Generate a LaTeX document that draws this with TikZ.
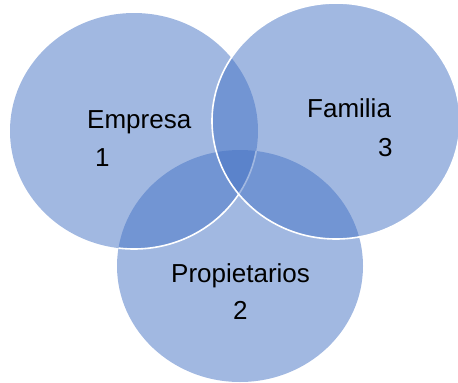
\documentclass[tikz,border=0pt]{standalone}
\usepackage{fontspec}
\setmainfont{Liberation Sans}
\definecolor{vennblue}{HTML}{4472C4}
\begin{document}
\begin{tikzpicture}[x=1pt,y=-1pt,
    disc/.style={fill=vennblue,fill opacity=0.5},
    rim/.style={draw=white,line width=1.6pt},
    lbl/.style={font=\fontsize{26}{31}\selectfont,inner sep=0pt,anchor=base west}]
    \useasboundingbox (0,0) rectangle (458,383);

    % Propietarios, Empresa, Familia
    \fill[disc] (240,266) ellipse [x radius=123, y radius=116];
    \fill[disc] (134,131) ellipse [x radius=124, y radius=118];
    \begin{scope}
        \clip (240,266) ellipse [x radius=123, y radius=116];
        \draw[rim] (134,131) ellipse [x radius=124, y radius=118];
    \end{scope}
    \fill[disc] (336,121) ellipse [x radius=124, y radius=118];
    \draw[rim] (336,121) ellipse [x radius=124, y radius=118];

    \node[lbl] (empresa) at (87,128) {Empresa};
    \node[lbl] (uno) at (95,166) {1};
    \node[lbl] (familia) at (307,117) {Familia};
    \node[lbl] (tres) at (378,156) {3};
    \node[lbl] (propietarios) at (171,282) {Propietarios};
    \node[lbl] (dos) at (233,319) {2};
\end{tikzpicture}
\end{document}
